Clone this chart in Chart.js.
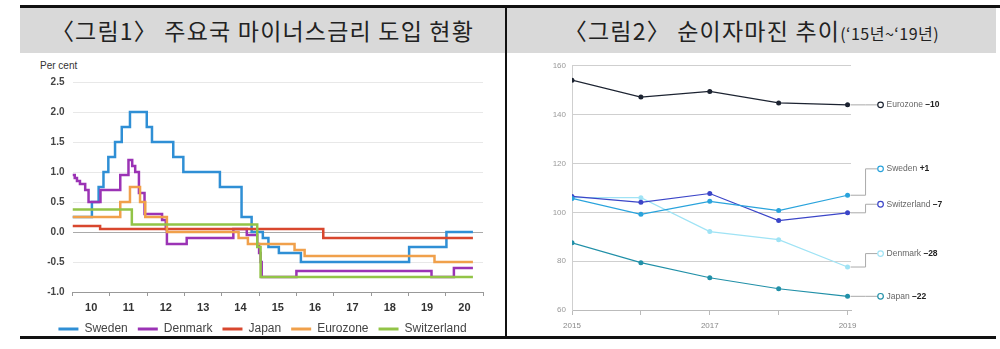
<!DOCTYPE html>
<html>
<head>
<meta charset="utf-8">
<script src="https://cdn.jsdelivr.net/npm/chart.js@4.4.1/dist/chart.umd.min.js"></script>
<style>
  html, body { margin: 0; padding: 0; width: 1000px; height: 349px; overflow: hidden; background: #fff; }
  .rule { position: absolute; background: #111; }
  .band { position: absolute; top: 8px; height: 45px; background: #d9d9d9; }
  .head { position: absolute; top: 8px; height: 45px; line-height: 45px; text-align: center; white-space: nowrap;
          font-family: "Noto Sans CJK KR", sans-serif; font-size: 23px; color: #222; letter-spacing: 1.2px; }
  .head small { font-size: 16px; letter-spacing: 0.5px; }
  .unit { position: absolute; left: 40px; top: 60px; font: 10px "Liberation Sans", Arial, sans-serif; color: #333; }
  canvas { position: absolute; }
</style>
</head>
<body>
<div class="band" style="left:20px;width:485px"></div>
<div class="band" style="left:507px;width:489px"></div>
<div class="head" style="left:20px;width:485px">〈그림1〉 주요국 마이너스금리 도입 현황</div>
<div class="head" style="left:507px;width:489px">〈그림2〉 순이자마진 추이<small>(‘15년~‘19년)</small></div>
<div class="unit">Per cent</div>
<canvas id="rates" width="485" height="290" style="left:20px;top:55px"></canvas>
<canvas id="nim" width="489" height="283" style="left:507px;top:55px"></canvas>
<div class="rule" style="left:20px;top:5px;width:980px;height:3px"></div>
<div class="rule" style="left:505px;top:5px;width:2px;height:334px"></div>
<div class="rule" style="left:20px;top:336px;width:976px;height:3px"></div>

<script>
// ---- Figure 1: policy rates (step lines), [year, rate] from that date on
const rateYears = [2010, 2011, 2012, 2013, 2014, 2015, 2016, 2017, 2018, 2019, 2020, 2021];
const sweden = [[2010.0, 0.25], [2010.52, 0.5], [2010.7, 0.75], [2010.83, 1.0], [2010.96, 1.25], [2011.14, 1.5],
  [2011.32, 1.75], [2011.54, 2.0], [2011.99, 1.75], [2012.13, 1.5], [2012.7, 1.25], [2012.97, 1.0], [2013.95, 0.75],
  [2014.53, 0.25], [2014.8, 0.0], [2015.1, -0.1], [2015.25, -0.25], [2015.53, -0.35], [2016.12, -0.5],
  [2019.02, -0.25], [2020.02, 0.0], [2020.73, 0.0]];
const denmark = [[2010.0, 0.95], [2010.06, 0.9], [2010.12, 0.85], [2010.2, 0.8], [2010.34, 0.7], [2010.43, 0.5],
  [2010.75, 0.7], [2011.28, 0.95], [2011.5, 1.2], [2011.6, 1.1], [2011.68, 1.0], [2011.78, 0.65], [2011.93, 0.3],
  [2012.4, 0.2], [2012.5, 0.05], [2012.53, -0.2], [2013.06, -0.1], [2014.31, 0.05], [2014.67, -0.05],
  [2014.95, -0.2], [2015.0, -0.35], [2015.04, -0.5], [2015.07, -0.75], [2016.0, -0.65], [2019.62, -0.75],
  [2020.22, -0.6], [2020.73, -0.6]];
const japan = [[2010.0, 0.1], [2010.74, 0.05], [2016.72, -0.1], [2020.73, -0.1]];
const eurozone = [[2010.0, 0.25], [2011.28, 0.5], [2011.54, 0.75], [2011.81, 0.5], [2011.95, 0.25], [2012.53, 0.0],
  [2014.45, -0.1], [2014.7, -0.2], [2015.95, -0.3], [2016.22, -0.4], [2019.7, -0.5], [2020.73, -0.5]];
const switzerland = [[2010.0, 0.375], [2011.59, 0.125], [2014.95, -0.25], [2015.04, -0.75], [2020.73, -0.75]];

// ---- Figure 2: net interest margin index
const nimYears = [2015, 2016, 2017, 2018, 2019];
const nimEurozone = [154.1, 147.2, 149.5, 144.8, 144.0];
const nimSweden = [105.7, 99.2, 104.5, 100.7, 107.0];
const nimSwitzerland = [106.5, 104.1, 107.7, 96.6, 99.8];
const nimDenmark = [106.0, 106.0, 92.1, 88.8, 77.6];
const nimJapan = [87.5, 79.4, 73.2, 68.7, 65.6];
const nimNames = ["Eurozone", "Sweden", "Switzerland", "Denmark", "Japan"];
const nimChanges = ["\u201310", "+1", "\u20137", "\u201328", "\u201322"];
const nimLabelAt = [144.0, 117.8, 103.3, 83.1, 65.6];

const FONT = '"Liberation Sans", Arial, sans-serif';

function stepSet(label, pairs, color, order) {
  return {
    label, order,
    data: pairs.map(([x, y]) => ({ x, y })),
    borderColor: color, backgroundColor: color,
    borderWidth: 2.5, pointRadius: 0, stepped: true, fill: false
  };
}

new Chart(document.getElementById("rates"), {
  type: "line",
  data: {
    datasets: [
      stepSet("Sweden", sweden, "#2f8fd5", 5),
      stepSet("Denmark", denmark, "#9b33b5", 4),
      stepSet("Japan", japan, "#d8472e", 3),
      stepSet("Eurozone", eurozone, "#f0a04b", 2),
      stepSet("Switzerland", switzerland, "#92c447", 1)
    ]
  },
  options: {
    responsive: false, animation: false,
    layout: { padding: { top: 27, left: 22, right: 22, bottom: 0 } },
    plugins: {
      tooltip: { enabled: false },
      legend: {
        position: "bottom",
        labels: {
          boxWidth: 20, boxHeight: 3, padding: 10, color: "#444",
          font: { family: FONT, size: 12 },
          generateLabels(chart) {
            const items = Chart.defaults.plugins.legend.labels.generateLabels(chart);
            items.forEach(it => { it.lineWidth = 0; it.fillStyle = it.strokeStyle; });
            return items.sort((a, b) => a.datasetIndex - b.datasetIndex);
          }
        }
      }
    },
    scales: {
      x: {
        type: "linear", min: rateYears[0], max: rateYears[rateYears.length - 1],
        afterBuildTicks(s) { s.ticks = rateYears.map(v => ({ value: v })); },
        afterFit(s) { s.height = 21; },
        ticks: {
          autoSkip: false, maxRotation: 0, labelOffset: 18.7, padding: 5,
          color: "#333", font: { family: FONT, size: 11, weight: "bold" },
          callback: v => (v < 2021 ? String(v - 2000) : "")
        },
        grid: { drawOnChartArea: false, tickLength: 4, color: "#999" },
        border: { color: "#999" }
      },
      y: {
        min: -1, max: 2.5,
        afterFit(s) { s.width = 30.5; },
        ticks: {
          stepSize: 0.5, padding: 8, color: "#444",
          font: { family: FONT, size: 10, weight: "bold" },
          callback: v => v.toFixed(1)
        },
        grid: { drawTicks: false, color: c => (c.tick.value === 0 ? "#aaa" : "#e8e8e8") },
        border: { display: false }
      }
    }
  }
});

// ---- Figure 2
const nimLabels = {
  id: "nimLabels",
  afterDatasetsDraw(chart) {
    const ctx = chart.ctx, y = chart.scales.y;
    ctx.save();
    chart.data.datasets.forEach((ds, i) => {
      const pts = chart.getDatasetMeta(i).data;
      const p = pts[pts.length - 1];
      const ly = y.getPixelForValue(nimLabelAt[i]);
      const corner = p.x + 18, cx = p.x + 33;
      ctx.strokeStyle = "#aaa"; ctx.lineWidth = 1;
      ctx.beginPath();
      ctx.moveTo(p.x + 3, p.y); ctx.lineTo(corner, p.y); ctx.lineTo(corner, ly); ctx.lineTo(cx - 3, ly);
      ctx.stroke();
      ctx.strokeStyle = ds.borderColor; ctx.lineWidth = 1.2;
      ctx.beginPath(); ctx.arc(cx, ly, 2.8, 0, Math.PI * 2); ctx.stroke();
      ctx.textBaseline = "middle"; ctx.textAlign = "left";
      ctx.font = "8.5px " + FONT; ctx.fillStyle = "#666";
      const name = nimNames[i] + " ";
      ctx.fillText(name, cx + 6, ly);
      const w = ctx.measureText(name).width;
      ctx.font = "bold 8.5px " + FONT; ctx.fillStyle = "#222";
      ctx.fillText(nimChanges[i], cx + 6 + w, ly);
    });
    ctx.restore();
  }
};

function nimSet(label, values, color) {
  return {
    label, data: values.map((v, i) => ({ x: nimYears[i], y: v })),
    borderColor: color, backgroundColor: color, pointBackgroundColor: color,
    borderWidth: 1.2, pointRadius: 2.5, pointBorderWidth: 0, fill: false
  };
}

new Chart(document.getElementById("nim"), {
  type: "line",
  data: {
    datasets: [
      nimSet("Eurozone", nimEurozone, "#1c2331"),
      nimSet("Sweden", nimSweden, "#29a3dc"),
      nimSet("Switzerland", nimSwitzerland, "#3b45c8"),
      nimSet("Denmark", nimDenmark, "#9fe3f5"),
      nimSet("Japan", nimJapan, "#2190a8")
    ]
  },
  plugins: [nimLabels],
  options: {
    responsive: false, animation: false,
    layout: { padding: { top: 7, left: 0, right: 145, bottom: 0 } },
    plugins: { legend: { display: false }, tooltip: { enabled: false } },
    scales: {
      x: {
        type: "linear", min: 2015, max: 2019.05,
        afterBuildTicks(s) { s.ticks = nimYears.map(v => ({ value: v })); },
        afterFit(s) { s.height = 28; },
        ticks: {
          autoSkip: false, maxRotation: 0, padding: 6, color: "#888",
          font: { family: FONT, size: 8 },
          callback: v => (v % 2 === 1 ? String(v) : "")
        },
        grid: { drawOnChartArea: false, tickLength: 5, color: "#bbb" },
        border: { color: "#bbb" }
      },
      y: {
        min: 60, max: 160,
        afterFit(s) { s.width = 65; },
        ticks: { stepSize: 20, padding: 6, color: "#999", font: { family: FONT, size: 8 } },
        grid: { drawTicks: false, color: "#cfcfcf" },
        border: { color: "#cfcfcf" }
      }
    }
  }
});
</script>
</body>
</html>
